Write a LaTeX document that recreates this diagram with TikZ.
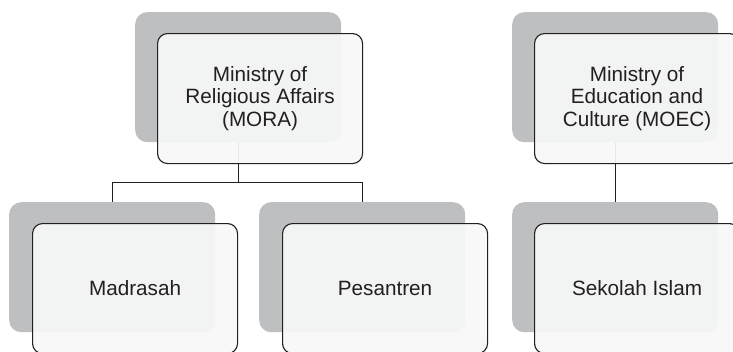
\documentclass[tikz,border=0pt]{standalone}
\usepackage{fontspec}
\setmainfont{Liberation Sans}
\definecolor{boxgray}{RGB}{190,191,193}
\definecolor{boxwhite}{RGB}{247,247,247}
\definecolor{linkdark}{RGB}{35,31,32}
\begin{document}
\begin{tikzpicture}[x=1pt,y=-1pt,
  shadowbox/.style={fill=boxgray, draw=none, rounded corners=12pt, minimum width=206pt, minimum height=130pt, anchor=north west, inner sep=0pt},
  frontbox/.style={draw=linkdark, line width=1.1pt, fill=boxwhite, fill opacity=0.93, text opacity=1, text=linkdark, rounded corners=10pt, minimum width=205pt, minimum height=130pt, anchor=north west, align=center, inner sep=0pt, font=\fontsize{20.7}{22.5}\selectfont},
  link/.style={draw=linkdark, line width=1.3pt}]
\useasboundingbox (0,0) rectangle (733,351);
\clip (0,0) rectangle (733,351);
% background boxes
\node[shadowbox] (mora-bg) at (135,12) {};
\node[shadowbox] (moec-bg) at (512,12) {};
\node[shadowbox] (madrasah-bg) at (9,202) {};
\node[shadowbox] (pesantren-bg) at (259,202) {};
\node[shadowbox] (sekolah-bg) at (512,202) {};
% connectors
\draw[link] (mora-bg.south) -- ++(0,40) -| (madrasah-bg.north);
\draw[link] (mora-bg.south) -- ++(0,40) -| (pesantren-bg.north);
\draw[link] (moec-bg.south) -- (sekolah-bg.north);
% front boxes
\node[frontbox] (mora) at (157,33) {Ministry of\\Religious Affairs\\(MORA)};
\node[frontbox] (moec) at (534,33) {Ministry of\\Education and\\Culture (MOEC)};
\node[frontbox] (madrasah) at (32,223) {Madrasah};
\node[frontbox] (pesantren) at (282,223) {Pesantren};
\node[frontbox] (sekolah) at (534,223) {Sekolah Islam};
\end{tikzpicture}
\end{document}
